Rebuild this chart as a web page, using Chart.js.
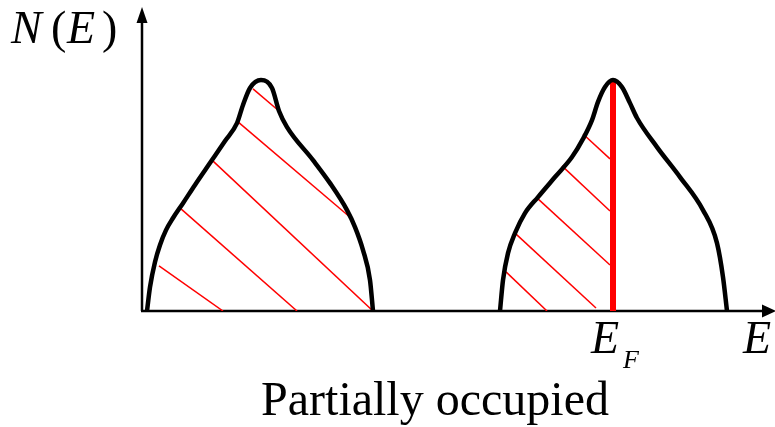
<!DOCTYPE html>
<html>
<head>
<meta charset="utf-8">
<script src="https://cdn.jsdelivr.net/npm/chart.js@4"></script>
<style>
  html, body { margin: 0; padding: 0; background: #fff; }
  canvas { display: block; }
</style>
</head>
<body>
<canvas id="dos" width="775" height="427"></canvas>
<script>
// energy (arbitrary units) and density of states for the two bands
const band1E = [0.10, 0.16, 0.26, 0.36, 0.48, 0.62, 0.82, 1.06, 1.40, 1.66, 1.90, 2.02, 2.16, 2.38, 2.60, 2.74, 2.90, 3.42, 3.76, 4.10, 4.26, 4.42, 4.56, 4.62];
const band1N = [0.00, 0.79, 1.62, 2.18, 2.67, 3.07, 3.56, 4.16, 4.98, 5.61, 6.20, 6.80, 7.36, 7.62, 7.36, 6.60, 6.07, 4.98, 4.22, 3.33, 2.77, 2.01, 1.02, 0.00];
const band2E = [7.16, 7.22, 7.32, 7.46, 7.66, 7.92, 8.26, 8.60, 8.82, 9.00, 9.12, 9.26, 9.42, 9.60, 9.76, 9.90, 10.30, 10.76, 11.22, 11.50, 11.62, 11.70];
const band2N = [0.00, 1.02, 1.91, 2.57, 3.23, 3.76, 4.42, 5.08, 5.68, 6.30, 6.90, 7.39, 7.62, 7.39, 6.86, 6.37, 5.41, 4.42, 3.33, 2.24, 1.12, 0.00];

// Fermi level
const fermiE = 9.42;
const fermiTop = 7.62;

// hatch segments for occupied states: [E1, N1, E2, N2]
const hatch1 = [
  [0.34, 1.49, 1.62, 0.00],
  [0.78, 3.37, 3.10, 0.00],
  [1.40, 4.98, 4.62, 0.00],
  [1.92, 6.24, 4.18, 3.07],
  [2.22, 7.33, 2.74, 6.60],
];
const hatch2 = [
  [7.28, 1.29, 8.10, 0.00],
  [7.46, 2.57, 9.08, 0.10],
  [7.92, 3.70, 9.36, 1.52],
  [8.40, 4.79, 9.36, 3.30],
  [8.82, 5.84, 9.36, 5.02],
];

const toPoints = (xs, ys) => xs.map((x, i) => ({ x: x, y: ys[i] }));

const datasets = [];

// band outlines
[toPoints(band1E, band1N), toPoints(band2E, band2N)].forEach((pts) => {
  datasets.push({
    data: pts,
    showLine: true,
    borderColor: "#000",
    borderWidth: 4.5,
    pointRadius: 0,
    cubicInterpolationMode: "monotone",
    order: 0,
  });
});

// Fermi level line
datasets.push({
  data: [{ x: fermiE, y: 0 }, { x: fermiE, y: fermiTop }],
  showLine: true,
  borderColor: "#ff0000",
  borderWidth: 6,
  pointRadius: 0,
  order: 1,
});

// hatching
hatch1.concat(hatch2).forEach((s) => {
  datasets.push({
    data: [{ x: s[0], y: s[1] }, { x: s[2], y: s[3] }],
    showLine: true,
    borderColor: "#ff0000",
    borderWidth: 1.5,
    pointRadius: 0,
    order: 2,
  });
});

// axes with arrows, drawn under the datasets
const axesPlugin = {
  id: "axes",
  beforeDatasetsDraw(chart) {
    const ctx = chart.ctx;
    const x0 = chart.scales.x.getPixelForValue(0);
    const y0 = chart.scales.y.getPixelForValue(0);
    const { top, right } = chart.chartArea;
    ctx.save();
    ctx.strokeStyle = "#000";
    ctx.fillStyle = "#000";
    ctx.lineWidth = 2.5;
    ctx.beginPath();
    ctx.moveTo(x0, y0);
    ctx.lineTo(x0, top + 14);
    ctx.moveTo(x0 - 1, y0);
    ctx.lineTo(right - 12, y0);
    ctx.stroke();
    // y arrow
    ctx.beginPath();
    ctx.moveTo(x0, top - 1);
    ctx.lineTo(x0 - 5.5, top + 15);
    ctx.lineTo(x0 + 5.5, top + 15);
    ctx.closePath();
    ctx.fill();
    // x arrow
    ctx.beginPath();
    ctx.moveTo(right + 1, y0);
    ctx.lineTo(right - 13, y0 - 6.5);
    ctx.lineTo(right - 13, y0 + 6.5);
    ctx.closePath();
    ctx.fill();
    ctx.restore();
  },
  afterDatasetsDraw(chart) {
    const ctx = chart.ctx;
    const xF = chart.scales.x.getPixelForValue(fermiE);
    ctx.save();
    ctx.fillStyle = "#000";
    ctx.textBaseline = "alphabetic";
    ctx.textAlign = "left";
    const it = "italic 46px 'Liberation Serif', 'Times New Roman', serif";
    const up = "46px 'Liberation Serif', 'Times New Roman', serif";
    // N(E)
    ctx.font = it;
    ctx.fillText("N", 11, 43);
    ctx.font = up;
    ctx.fillText("(", 51, 43);
    ctx.font = it;
    ctx.fillText("E", 67, 43);
    ctx.font = up;
    ctx.fillText(")", 102, 43);
    // E axis label
    ctx.font = it;
    ctx.fillText("E", 743, 353);
    // E_F
    ctx.fillText("E", xF - 22, 353);
    ctx.font = "italic 26px 'Liberation Serif', 'Times New Roman', serif";
    ctx.fillText("F", xF + 10, 368);
    // caption
    ctx.font = "48px 'Liberation Serif', 'Times New Roman', serif";
    ctx.textAlign = "center";
    ctx.fillText("Partially occupied", 435, 415);
    ctx.restore();
  },
};

new Chart(document.getElementById("dos"), {
  type: "scatter",
  data: { datasets },
  options: {
    responsive: false,
    animation: false,
    devicePixelRatio: 1,
    layout: { padding: { left: 142, right: 0, top: 8, bottom: 116 } },
    scales: {
      x: { type: "linear", min: 0, max: 12.66, display: false },
      y: { type: "linear", min: 0, max: 10, display: false },
    },
    plugins: {
      legend: { display: false },
      tooltip: { enabled: false },
    },
  },
  plugins: [axesPlugin],
});
</script>
</body>
</html>
